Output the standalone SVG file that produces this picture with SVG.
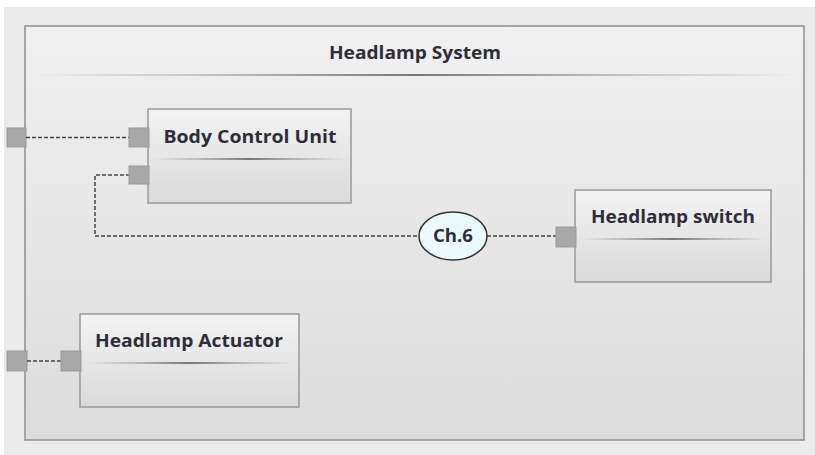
<svg xmlns="http://www.w3.org/2000/svg" width="815" height="455" viewBox="0 0 815 455">
<defs>
<linearGradient id="gOuter" x1="0" y1="0" x2="0" y2="1"><stop offset="0" stop-color="#f1f1f1"/><stop offset="1" stop-color="#dcdcdc"/></linearGradient>
<linearGradient id="gNode" x1="0" y1="0" x2="0" y2="1"><stop offset="0" stop-color="#f3f3f3"/><stop offset="1" stop-color="#dadada"/></linearGradient>
<linearGradient id="gSep" x1="0" y1="0" x2="1" y2="0"><stop offset="0" stop-color="#999" stop-opacity="0"/><stop offset="0.5" stop-color="#777"/><stop offset="1" stop-color="#999" stop-opacity="0"/></linearGradient>
<style>
.frame{fill:url(#gOuter);stroke:#8f8f8f;stroke-width:1.5}
.node{fill:url(#gNode);stroke:#999;stroke-width:1.5}
.sep{fill:url(#gSep)}
.port{fill:#a8a8a8;stroke:#999;stroke-width:1}
.t{font-family:"Open Sans","Liberation Sans",sans-serif;font-weight:bold;font-size:17.5px;fill:#2e2e3a;text-anchor:middle}
.conn{fill:none;stroke:#444;stroke-width:1.5;stroke-dasharray:4 2}
</style>
</defs>
<rect x="0" y="0" width="815" height="455" fill="#fff"/>
<rect x="4" y="7" width="811" height="448" fill="#ebebeb"/>
<g id="headlamp-system">
<rect class="frame" x="25" y="26" width="779" height="414"/>
<text class="t" x="415" y="59" textLength="172" lengthAdjust="spacingAndGlyphs">Headlamp System</text>
<rect class="sep" x="30" y="74" width="770" height="2"/>
<rect class="port" x="7" y="128" width="19" height="19"/>
<rect class="port" x="7" y="351" width="20" height="20"/>
</g>
<g id="connectors">
<path class="conn" d="M26 137.5 H129"/>
<path class="conn" d="M130 175 H95 V236 H419"/>
<path class="conn" d="M487 236 H556"/>
<path class="conn" d="M27 361 H61"/>
</g>
<g id="body-control-unit">
<rect class="node" x="148" y="109" width="203" height="94"/>
<text class="t" x="250" y="143" textLength="173" lengthAdjust="spacingAndGlyphs">Body Control Unit</text>
<rect class="sep" x="152" y="158" width="195" height="2"/>
<rect class="port" x="129" y="128" width="20" height="19"/>
<rect class="port" x="129" y="166" width="20" height="18"/>
</g>
<g id="ch6">
<ellipse cx="453" cy="236" rx="34" ry="24" fill="#ebfbfb" stroke="#333" stroke-width="1.5"/>
<text class="t" x="453" y="242" textLength="40" lengthAdjust="spacingAndGlyphs">Ch.6</text>
</g>
<g id="headlamp-switch">
<rect class="node" x="575" y="190" width="196" height="92"/>
<text class="t" x="673" y="223" textLength="164" lengthAdjust="spacingAndGlyphs">Headlamp switch</text>
<rect class="sep" x="579" y="238" width="188" height="2"/>
<rect class="port" x="556" y="227" width="20" height="20"/>
</g>
<g id="headlamp-actuator">
<rect class="node" x="80" y="314" width="219" height="93"/>
<text class="t" x="189" y="347" textLength="188" lengthAdjust="spacingAndGlyphs">Headlamp Actuator</text>
<rect class="sep" x="84" y="362" width="211" height="2"/>
<rect class="port" x="61" y="351" width="20" height="20"/>
</g>
</svg>
